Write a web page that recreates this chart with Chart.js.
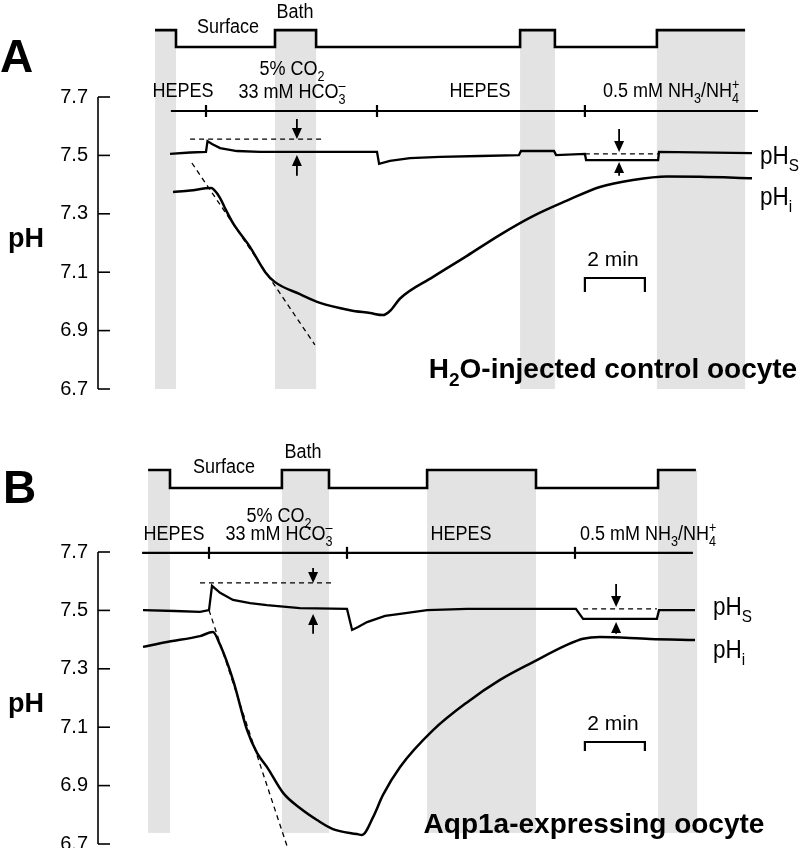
<!DOCTYPE html>
<html>
<head>
<meta charset="utf-8">
<script src="https://cdn.jsdelivr.net/npm/chart.js@4.4.1/dist/chart.umd.min.js"></script>
<style>
  html, body { margin: 0; padding: 0; background: #fff; overflow: hidden; width: 809px; height: 848px; }
  canvas { position: absolute; left: 0; }
  #chartA { top: 0; }
  #chartB { top: 424px; }
</style>
</head>
<body>
<canvas id="chartA" width="809" height="460"></canvas>
<canvas id="chartB" width="809" height="460"></canvas>
<script>
// time in minutes, values in pH units
const yTicks = [6.7, 6.9, 7.1, 7.3, 7.5, 7.7];

// panel A: H2O-injected control oocyte
const aTimeS = [2.40, 3.07, 3.60, 3.65, 3.80, 4.07, 4.63, 5.40, 6.73, 8.07, 9.30, 9.37, 9.73, 10.40, 11.40, 12.73, 14.03, 14.10, 15.20, 15.27, 16.23, 16.27, 18.67, 18.70, 21.80];
const aPhS   = [7.505, 7.510, 7.512, 7.549, 7.539, 7.525, 7.515, 7.512, 7.512, 7.512, 7.512, 7.471, 7.481, 7.491, 7.495, 7.498, 7.501, 7.515, 7.515, 7.501, 7.505, 7.484, 7.484, 7.512, 7.508];
const aTimeI = [2.50, 3.07, 3.77, 3.87, 4.07, 4.23, 4.50, 5.07, 5.57, 5.90, 6.73, 7.40, 8.40, 9.07, 9.50, 9.73, 10.07, 11.17, 12.30, 13.40, 14.50, 15.63, 16.73, 17.83, 18.97, 20.07, 21.80];
const aPhI   = [7.375, 7.380, 7.388, 7.382, 7.354, 7.320, 7.268, 7.186, 7.101, 7.066, 7.025, 6.995, 6.970, 6.960, 6.953, 6.967, 7.010, 7.084, 7.156, 7.228, 7.292, 7.345, 7.392, 7.416, 7.428, 7.427, 7.422];
const aBands = [[1.90, 2.60], [5.90, 7.27], [14.07, 15.23], [18.63, 21.57]];
const aStepTimes = [1.90, 2.60, 5.90, 7.27, 14.07, 15.23, 18.63, 21.57];
const aStepStates = ['Bath', 'Surface', 'Bath', 'Surface', 'Bath', 'Surface', 'Bath'];
const aSolTimes = [2.43, 3.60, 9.30, 16.23, 22.00];
const aCo2RefT = [3.07, 7.50], aCo2RefPh = 7.556;
const aNh3RefT = [16.23, 18.67], aNh3RefPh = 7.505;
const aSlopeT = [3.13, 7.23], aSlopePh = [7.474, 6.851];

// panel B: Aqp1a-expressing oocyte
const bTimeS = [1.50, 2.57, 3.40, 3.70, 3.80, 4.07, 4.50, 5.07, 5.63, 6.73, 8.30, 8.47, 8.67, 8.97, 9.57, 10.07, 10.97, 12.30, 15.93, 16.17, 18.63, 18.70, 19.90];
const bPhS   = [7.501, 7.498, 7.495, 7.501, 7.584, 7.560, 7.536, 7.525, 7.518, 7.508, 7.505, 7.433, 7.443, 7.460, 7.481, 7.488, 7.501, 7.505, 7.505, 7.471, 7.471, 7.501, 7.501];
const bTimeI = [1.50, 2.30, 3.40, 3.83, 4.07, 4.50, 4.97, 5.30, 5.63, 6.17, 6.73, 7.30, 7.83, 8.63, 8.80, 9.17, 9.50, 10.07, 11.17, 12.30, 13.40, 14.50, 15.63, 16.17, 16.73, 18.40, 19.90];
const bPhI   = [7.375, 7.392, 7.412, 7.426, 7.382, 7.262, 7.090, 7.012, 6.964, 6.875, 6.823, 6.782, 6.751, 6.734, 6.731, 6.792, 6.868, 6.964, 7.090, 7.185, 7.262, 7.323, 7.382, 7.403, 7.409, 7.402, 7.399];
const bBands = [[1.67, 2.40], [6.13, 7.70], [10.97, 14.60], [18.67, 19.97]];
const bStepTimes = [1.67, 2.40, 6.13, 7.70, 10.97, 14.60, 18.67, 19.93];
const bStepStates = ['Bath', 'Surface', 'Bath', 'Surface', 'Bath', 'Surface', 'Bath'];
const bSolTimes = [1.47, 3.70, 8.30, 15.90, 19.83];
const bCo2RefT = [3.40, 7.83], bCo2RefPh = 7.594;
const bNh3RefT = [16.17, 18.63], bNh3RefPh = 7.505;
const bSlopeT = [3.70, 6.40], bSlopePh = [7.501, 6.662];

const PX_PER_PH = 292, PX_PER_MIN = 30;
const PAD = 26, CANVAS_H = 460;
const FONT = '"Liberation Sans", Arial, Helvetica, sans-serif';

function pts(xs, ys) { return xs.map((x, i) => ({ x: x, y: Array.isArray(ys) ? ys[i] : ys })); }

function stepPts(times, states, levels) {
  const out = [];
  for (let i = 0; i < states.length; i++) {
    out.push({ x: times[i], y: levels[states[i]] });
    out.push({ x: times[i + 1], y: levels[states[i]] });
  }
  return out;
}

// text with sub/superscripts; parts = [[text, kind]], kind: '', 'sub', 'sup', 'over' (sup stacked over previous sub)
function drawRich(ctx, o) {
  const { parts, size, bold, align } = o;
  const sx = o.sx || 1;
  const w = bold ? 'bold ' : '';
  const small = Math.round(size * 0.68);
  let total = 0, lastSub = 0;
  const adv = parts.map(([t, k]) => {
    ctx.font = w + (k ? small : size) + 'px ' + FONT;
    const m = ctx.measureText(t).width;
    let a = m;
    if (k === 'over') a = Math.max(0, m - lastSub);
    if (k === 'sub') lastSub = m;
    total += a;
    return a;
  });
  const start = align === 'center' ? o.x - total * sx / 2 : (align === 'right' ? o.x - total * sx : o.x);
  ctx.save();
  ctx.translate(start, o.y);
  ctx.scale(sx, 1);
  ctx.textAlign = 'left';
  ctx.textBaseline = 'alphabetic';
  ctx.fillStyle = '#000';
  let cx = 0, prevX = 0;
  parts.forEach(([t, k], i) => {
    ctx.font = w + (k ? small : size) + 'px ' + FONT;
    let dy = 0;
    if (k === 'sub') dy = size * 0.28;
    if (k === 'sup' || k === 'over') dy = -size * 0.42;
    ctx.fillText(t, k === 'over' ? prevX : cx, dy);
    if (k === 'sub') prevX = cx;
    cx += adv[i];
  });
  ctx.restore();
}

function drawArrow(ctx, x, y0, y1) {
  const dir = Math.sign(y1 - y0);
  ctx.lineWidth = 1.8;
  ctx.beginPath(); ctx.moveTo(x, y0); ctx.lineTo(x, y1 - dir * 8); ctx.stroke();
  ctx.beginPath();
  ctx.moveTo(x, y1);
  ctx.lineTo(x - 5, y1 - dir * 11);
  ctx.lineTo(x + 5, y1 - dir * 11);
  ctx.closePath(); ctx.fill();
}

const decorPlugin = {
  id: 'decor',
  beforeDatasetsDraw(chart) {
    const p = chart.options.plugins.decor;
    const xs = chart.scales.x, ys = chart.scales.y, ctx = chart.ctx;
    ctx.save();
    ctx.fillStyle = '#e3e3e3';
    p.bands.forEach(([t0, t1]) => {
      const x0 = xs.getPixelForValue(t0), x1 = xs.getPixelForValue(t1);
      const y0 = ys.getPixelForValue(p.bandTop), y1 = ys.getPixelForValue(p.bandBottom);
      ctx.fillRect(x0, y0, x1 - x0, y1 - y0);
    });
    ctx.restore();
  },
  afterDatasetsDraw(chart) {
    const p = chart.options.plugins.decor;
    const xs = chart.scales.x, ys = chart.scales.y, ctx = chart.ctx;
    const X = v => xs.getPixelForValue(v), Y = v => ys.getPixelForValue(v);
    ctx.save();
    ctx.strokeStyle = '#000'; ctx.fillStyle = '#000';
    // y axis line with inward ticks
    const ax = chart.chartArea.left;
    ctx.lineWidth = 1.6;
    ctx.beginPath(); ctx.moveTo(ax, Y(yTicks[yTicks.length - 1])); ctx.lineTo(ax, Y(yTicks[0])); ctx.stroke();
    yTicks.forEach(v => { ctx.beginPath(); ctx.moveTo(ax, Y(v)); ctx.lineTo(ax + 12, Y(v)); ctx.stroke(); });
    // solution change ticks
    ctx.lineWidth = 2.2;
    p.solTicks.forEach(t => {
      ctx.beginPath(); ctx.moveTo(X(t), Y(p.solLevel) - 6); ctx.lineTo(X(t), Y(p.solLevel) + 6); ctx.stroke();
    });
    // arrows
    p.arrows.forEach(a => {
      drawArrow(ctx, X(a.t), Y(a.down[0]), Y(a.down[1]));
      drawArrow(ctx, X(a.t), Y(a.up[0]), Y(a.up[1]));
    });
    // 2 min scale bar
    const sb = p.scaleBar;
    ctx.lineWidth = 2.2;
    ctx.beginPath();
    ctx.moveTo(X(sb.t), sb.bottom); ctx.lineTo(X(sb.t), sb.top);
    ctx.lineTo(X(sb.t + sb.len), sb.top); ctx.lineTo(X(sb.t + sb.len), sb.bottom);
    ctx.stroke();
    // texts
    p.texts.forEach(o => drawRich(ctx, o));
    ctx.restore();
  }
};

function makeChart(id, d, p) {
  const yMax = 7.7 + (p.y77 - PAD) / PX_PER_PH;
  const yMin = yMax - (CANVAS_H - 2 * PAD) / PX_PER_PH;
  const line = (data, extra) => Object.assign({
    data: data, borderColor: '#000', borderWidth: 2, pointRadius: 0, tension: 0, fill: false, clip: false
  }, extra || {});
  const sol = d.solTimes;
  return new Chart(document.getElementById(id), {
    type: 'line',
    data: {
      datasets: [
        line(stepPts(d.stepTimes, d.stepStates, { Bath: p.bath, Surface: p.surface }), { borderWidth: 2.6 }),
        line(pts([sol[0], sol[sol.length - 1]], p.solLevel), { borderWidth: 2.2 }),
        line(pts(d.co2RefT, d.co2RefPh), { borderWidth: 1.3, borderDash: [5, 4] }),
        line(pts(d.nh3RefT, d.nh3RefPh), { borderWidth: 1.3, borderDash: [5, 4] }),
        line(pts(d.slopeT, d.slopePh), { borderWidth: 1.3, borderDash: [5, 4] }),
        line(pts(d.timeS, d.phS), { borderWidth: 2.3 }),
        line(pts(d.timeI, d.phI), { borderWidth: 2.5, cubicInterpolationMode: 'monotone' })
      ]
    },
    options: {
      responsive: false,
      animation: false,
      devicePixelRatio: 1,
      layout: { padding: { top: PAD, bottom: PAD, left: 0, right: 9 } },
      scales: {
        x: { type: 'linear', display: false, min: 0, max: 702 / PX_PER_MIN },
        y: {
          type: 'linear', position: 'left', min: yMin, max: yMax,
          afterBuildTicks: s => { s.ticks = yTicks.map(v => ({ value: v })); },
          afterFit: s => { s.width = 98; },
          grid: { display: false, drawTicks: false },
          border: { display: false },
          ticks: {
            padding: 10, color: '#000',
            font: { family: FONT, size: 20 },
            callback: v => Number(v).toFixed(1)
          }
        }
      },
      plugins: {
        legend: { display: false },
        tooltip: { enabled: false },
        decor: Object.assign({ bands: d.bands, solTicks: sol.slice(1, -1) }, p)
      }
    },
    plugins: [decorPlugin]
  });
}

const T = (parts, x, y, size, bold, align, sx) => ({ parts, x, y, size, bold, align, sx });
const hco3 = [['33 mM HCO', ''], ['3', 'sub'], ['\u2013', 'over']];
const co2 = [['5% CO', ''], ['2', 'sub']];
const nh = [['0.5 mM NH', ''], ['3', 'sub'], ['/NH', ''], ['4', 'sub'], ['+', 'over']];

makeChart('chartA', {
  timeS: aTimeS, phS: aPhS, timeI: aTimeI, phI: aPhI, bands: aBands,
  stepTimes: aStepTimes, stepStates: aStepStates, solTimes: aSolTimes,
  co2RefT: aCo2RefT, co2RefPh: aCo2RefPh, nh3RefT: aNh3RefT, nh3RefPh: aNh3RefPh,
  slopeT: aSlopeT, slopePh: aSlopePh
}, {
  y77: 97, bandTop: 7.929, bandBottom: 6.7, bath: 7.929, surface: 7.871, solLevel: 7.652,
  arrows: [
    { t: 6.63, down: [7.625, 7.556], up: [7.430, 7.501] },
    { t: 17.37, down: [7.590, 7.512], up: [7.430, 7.477] }
  ],
  scaleBar: { t: 16.23, len: 2, top: 278, bottom: 292 },
  texts: [
    T([['A', '']], 0, 72, 46, true, 'left'),
    T([['pH', '']], 8, 247, 27, true, 'left'),
    T([['Bath', '']], 295, 18, 20, false, 'center', 0.9),
    T([['Surface', '']], 228, 33, 20, false, 'center', 0.9),
    T([['HEPES', '']], 183, 97, 20, false, 'center', 0.9),
    T(co2, 292, 75, 20, false, 'center', 0.9),
    T(hco3, 292, 98, 20, false, 'center', 0.9),
    T([['HEPES', '']], 480, 97, 20, false, 'center', 0.9),
    T(nh, 603, 97, 20, false, 'left', 0.9),
    T([['pH', ''], ['S', 'sub']], 760, 164, 25, false, 'left', 0.9),
    T([['pH', ''], ['i', 'sub']], 760, 205, 25, false, 'left', 0.9),
    T([['2 min', '']], 613, 266, 20, false, 'center', 1.05),
    T([['H', ''], ['2', 'sub'], ['O-injected control oocyte', '']], 613, 378, 28, true, 'center')
  ]
});

makeChart('chartB', {
  timeS: bTimeS, phS: bPhS, timeI: bTimeI, phI: bPhI, bands: bBands,
  stepTimes: bStepTimes, stepStates: bStepStates, solTimes: bSolTimes,
  co2RefT: bCo2RefT, co2RefPh: bCo2RefPh, nh3RefT: bNh3RefT, nh3RefPh: bNh3RefPh,
  slopeT: bSlopeT, slopePh: bSlopePh
}, {
  y77: 128, bandTop: 7.981, bandBottom: 6.738, bath: 7.981, surface: 7.919, solLevel: 7.697,
  arrows: [
    { t: 7.17, down: [7.645, 7.594], up: [7.420, 7.488] },
    { t: 17.27, down: [7.590, 7.512], up: [7.420, 7.460] }
  ],
  scaleBar: { t: 16.23, len: 2, top: 318, bottom: 327 },
  texts: [
    T([['B', '']], 3, 79, 46, true, 'left'),
    T([['pH', '']], 8, 288, 27, true, 'left'),
    T([['Bath', '']], 303, 34, 20, false, 'center', 0.9),
    T([['Surface', '']], 224, 49, 20, false, 'center', 0.9),
    T([['HEPES', '']], 174, 116, 20, false, 'center', 0.9),
    T(co2, 279, 98, 20, false, 'center', 0.9),
    T(hco3, 279, 116, 20, false, 'center', 0.9),
    T([['HEPES', '']], 461, 116, 20, false, 'center', 0.9),
    T(nh, 580, 116, 20, false, 'left', 0.9),
    T([['pH', ''], ['S', 'sub']], 713, 191, 25, false, 'left', 0.9),
    T([['pH', ''], ['i', 'sub']], 713, 234, 25, false, 'left', 0.9),
    T([['2 min', '']], 613, 306, 20, false, 'center', 1.05),
    T([['Aqp1a-expressing oocyte', '']], 594, 409, 28, true, 'center')
  ]
});
</script>
</body>
</html>
